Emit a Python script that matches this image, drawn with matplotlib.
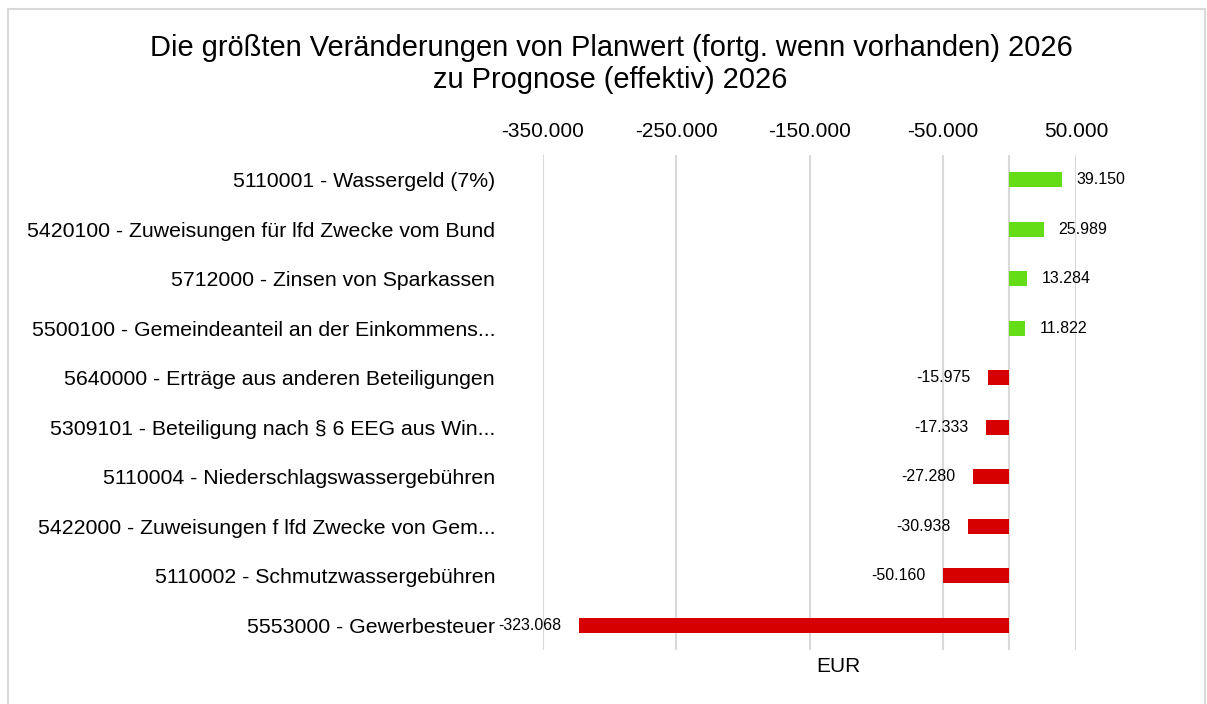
import matplotlib
matplotlib.use("Agg")
import matplotlib.pyplot as plt
from matplotlib.patches import Rectangle

plt.rcParams['font.family'] = ['Liberation Sans', 'DejaVu Sans']

categories = [
    "5110001 - Wassergeld (7%)",
    "5420100 - Zuweisungen für lfd Zwecke vom Bund",
    "5712000 - Zinsen von Sparkassen",
    "5500100 - Gemeindeanteil an der Einkommens...",
    "5640000 - Erträge aus anderen Beteiligungen",
    "5309101 - Beteiligung nach § 6 EEG aus Win...",
    "5110004 - Niederschlagswassergebühren",
    "5422000 - Zuweisungen f lfd Zwecke von Gem...",
    "5110002 - Schmutzwassergebühren",
    "5553000 - Gewerbesteuer",
]
values = [39150, 25989, 13284, 11822, -15975, -17333, -27280, -30938, -50160, -323068]
tick_values = [-350000, -250000, -150000, -50000, 50000]
title_lines = ["Die größten Veränderungen von Planwert (fortg. wenn vorhanden) 2026",
               "zu Prognose (effektiv) 2026"]
x_label = "EUR"

GREEN = "#64DD17"
RED = "#D60000"


def fmt(v):
    return f"{v:,.0f}".replace(",", ".")


W, H = 1207, 704
fig = plt.figure(figsize=(W / 100, H / 100), dpi=100)

# outer border
fig.patches.append(Rectangle((8 / W, -0.05), (1205 - 8) / W, 1.05 - 9 / H,
                             transform=fig.transFigure, fill=False,
                             edgecolor="#D9D9D9", linewidth=1.5))

ax = fig.add_axes([543 / W, 1 - 650 / H, 533 / W, 495 / H])
ypos = list(range(len(categories)))
colors = [GREEN if v >= 0 else RED for v in values]
ax.barh(ypos, values, height=0.31, color=colors, zorder=3)

ax.set_xlim(-350000, 50000)
ax.set_ylim(len(categories) - 0.5, -0.5)
ax.set_yticks(ypos)
ax.set_yticklabels(categories, fontsize=15.3)
ax.tick_params(axis='y', length=0, pad=34.5)

ax.xaxis.tick_top()
ax.set_xticks(tick_values)
ax.set_xticklabels([fmt(t) for t in tick_values], fontsize=15)
ax.tick_params(axis='x', length=0, pad=10)
ax.grid(axis='x', color="#D9D9D9", linewidth=1.5, zorder=0)
ax.axvline(0, color="#D9D9D9", linewidth=1.5, zorder=1)
for s in ax.spines.values():
    s.set_visible(False)

for y, v in zip(ypos, values):
    if v >= 0:
        ax.annotate(fmt(v), (v, y), xytext=(10.5, 0), textcoords='offset points',
                    ha='left', va='center', fontsize=11.5)
    else:
        ax.annotate(fmt(v), (v, y), xytext=(-12.5, 0), textcoords='offset points',
                    ha='right', va='center', fontsize=11.5)

fig.text(611 / W, 1 - 48 / H, title_lines[0], ha='center', va='center', fontsize=20.9)
fig.text(610 / W, 1 - 80 / H, title_lines[1], ha='center', va='center', fontsize=20.9)
fig.text(838 / W, 1 - 666 / H, x_label, ha='center', va='center', fontsize=15)

fig.savefig("out.png", dpi=100)
